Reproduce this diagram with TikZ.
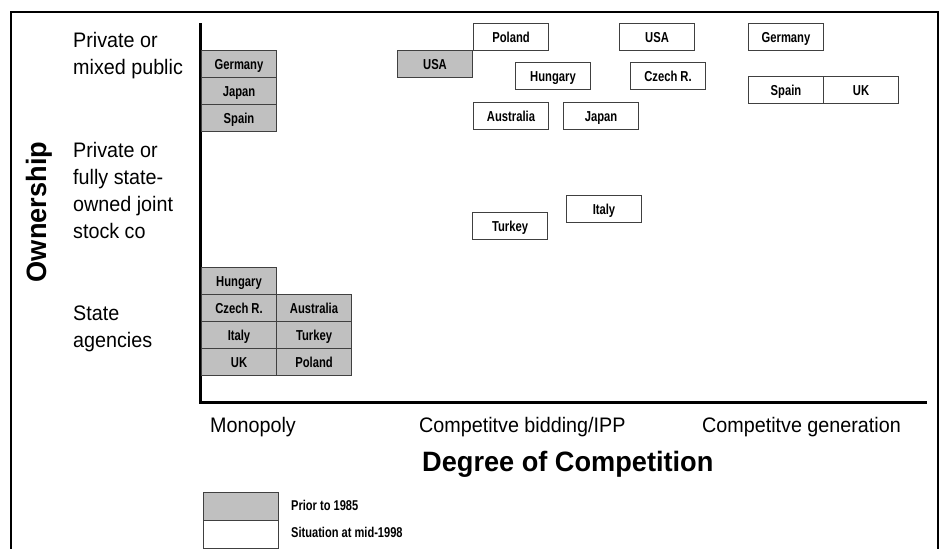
\documentclass[tikz,border=0pt]{standalone}
\usepackage{fontspec}
\setmainfont{Liberation Sans}
\newfontfamily\lblfont[FakeStretch=0.94]{Liberation Sans}
\newfontfamily\ttlfont[FakeStretch=0.97]{Liberation Sans}
\newfontfamily\boxfamily[FakeStretch=0.78]{Liberation Sans}
\definecolor{boxgray}{HTML}{C0C0C0}
\definecolor{edgegray}{HTML}{404040}
\tikzset{
  cbox/.style={draw=edgegray, line width=1pt, minimum width=75pt, minimum height=27pt,
    inner sep=0pt, anchor=north west, text height=10.3pt, text depth=0pt,
    font=\boxfamily\bfseries\fontsize{14.4}{16}\selectfont},
  old/.style={cbox, fill=boxgray},
  new/.style={cbox, fill=white},
  lbl/.style={font=\lblfont\fontsize{21}{27}\selectfont, inner sep=0pt, anchor=north west, align=left},
  axlbl/.style={font=\lblfont\fontsize{21}{27}\selectfont, inner sep=0pt, anchor=base west},
  ttl/.style={font=\ttlfont\bfseries\fontsize{28}{32}\selectfont, inner sep=0pt},
  leg/.style={font=\boxfamily\bfseries\fontsize{14.2}{16}\selectfont, inner sep=0pt, anchor=base west},
}
\begin{document}
\begin{tikzpicture}[x=1pt,y=-1pt]
\useasboundingbox (0,0) rectangle (943,549);
% frame
\coordinate (fbl) at (11,560);
\coordinate (ftl) at (11,11.5);
\coordinate (ftr) at (938,11.5);
\coordinate (fbr) at (938,560);
\draw[line width=2pt] (fbl) -- (ftl) -- (ftr) -- (fbr);
% axes
\coordinate (axtop) at (200,23);
\coordinate (origin) at (200,402);
\coordinate (axright) at (927,402);
\draw[line width=3pt] (axtop) -- (origin) -- (axright);
% row labels
\node[lbl] (r1) at (73,31.8) {Private or\\mixed public};
\node[lbl] (r2) at (73,141.8) {Private or\\fully state-\\owned joint\\stock co};
\node[lbl] (r3) at (73,305.6) {State\\agencies};
\node[ttl, rotate=90] (own) at (39,212) {Ownership};
% column labels
\node[axlbl] (c1) at (210,432) {Monopoly};
\node[axlbl] (c2) at (419,432) {Competitve bidding/IPP};
\node[axlbl] (c3) at (702,432) {Competitve generation};
\node[ttl, anchor=base west] (deg) at (422,471) {Degree of Competition};
% prior to 1985
\node[old] (gGer) at (201,50) {Germany};
\node[old] (gJap) at (201,77) {Japan};
\node[old] (gSpa) at (201,104) {Spain};
\node[old] (gHun) at (201,267) {Hungary};
\node[old] (gCze) at (201,294) {Czech R.};
\node[old] (gIta) at (201,321) {Italy};
\node[old] (gUK)  at (201,348) {UK};
\node[old] (gAus) at (276,294) {Australia};
\node[old] (gTur) at (276,321) {Turkey};
\node[old] (gPol) at (276,348) {Poland};
\node[old] (gUSA) at (397,50) {USA};
% mid-1998
\node[new] (wPol) at (473,23) {Poland};
\node[new] (wUSA) at (619,23) {USA};
\node[new] (wGer) at (748,23) {Germany};
\node[new] (wHun) at (515,62) {Hungary};
\node[new] (wCze) at (630,62) {Czech R.};
\node[new] (wSpa) at (748,76) {Spain};
\node[new] (wUK)  at (823,76) {UK};
\node[new] (wAus) at (473,102) {Australia};
\node[new] (wJap) at (563,102) {Japan};
\node[new] (wIta) at (566,195) {Italy};
\node[new] (wTur) at (472,212) {Turkey};
% legend
\node[old, minimum height=28pt] (legold) at (203,492) {};
\node[new, minimum height=28pt] (legnew) at (203,520) {};
\node[leg] (legt1) at (291,510.5) {Prior to 1985};
\node[leg] (legt2) at (291,537.5) {Situation at mid-1998};
\end{tikzpicture}
\end{document}
